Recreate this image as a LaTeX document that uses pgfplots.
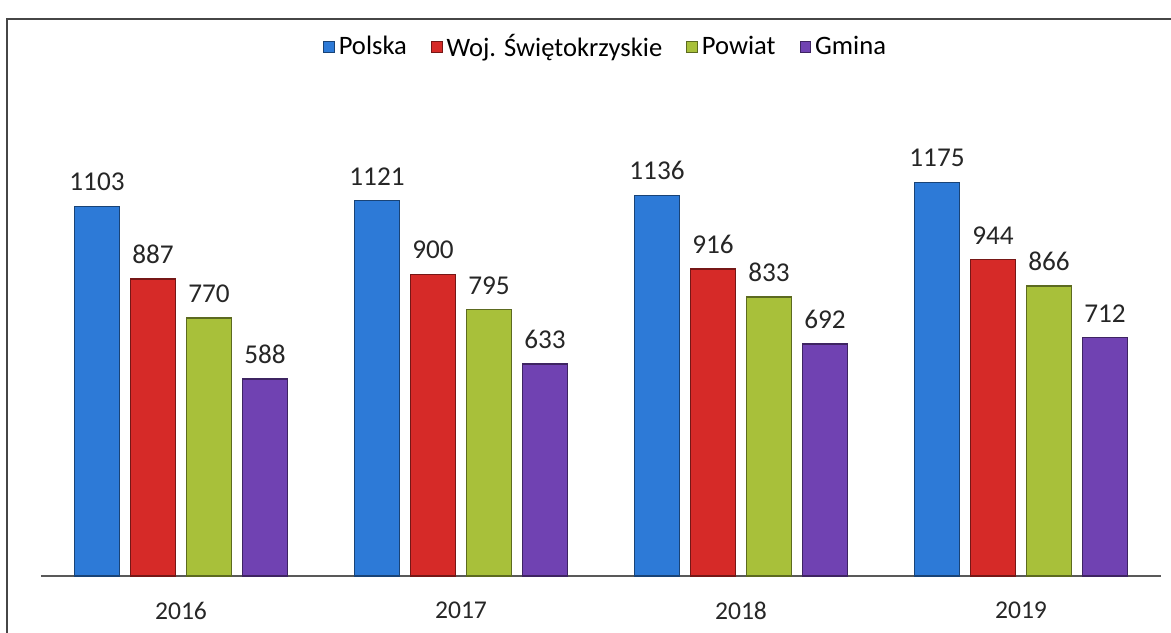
\documentclass[border=0pt]{standalone}
\usepackage{pgfplots}
\pgfplotsset{compat=1.18}
\usepackage{fontspec}
\setmainfont{Carlito}

\definecolor{cBlue}{RGB}{45,122,215}
\definecolor{cRed}{RGB}{214,42,40}
\definecolor{cGreen}{RGB}{168,192,58}
\definecolor{cPurple}{RGB}{112,66,178}

% one style per series: flat bar with darker rim
\pgfplotsset{
  barstyle/.style={
    draw=#1!55!black, line width=0.7pt, fill=#1,
  },
}

\begin{document}
\begin{tikzpicture}
\useasboundingbox (0,0) rectangle (585.5pt,316pt);
\draw[gray!55!black, line width=0.6pt] (3.5pt,-5pt) -- (3.5pt,306.5pt) -- (592pt,306.5pt);

\begin{axis}[
    at={(20.5pt,28pt)}, anchor=south west,
    scale only axis,
    width=560pt, height=201pt,
    ybar=5.5pt, bar width=22.5pt,
    ymin=0, ymax=1200,
    xmin=-0.5, xmax=3.5,
    axis y line=none,
    axis x line*=bottom,
    x axis line style={-, draw=gray!70!black, line width=0.8pt},
    xtick=data,
    xticklabels={2016,2017,2018,2019},
    major tick length=0pt,
    ytick=\empty,
    xticklabel style={font=\fontsize{12.8}{14}\selectfont, text=black!85, yshift=-9.5pt},
    nodes near coords,
    /pgf/number format/1000 sep={},
    /pgf/number format/assume math mode=true,
    every node near coord/.append style={font=\fontsize{13.6}{15}\selectfont, text=black!85, anchor=south, yshift=4pt},
    legend style={
        at={(0.505,1.316)}, anchor=center,
        draw=none, fill=none,
        legend columns=4,
        font=\fontsize{13.3}{15}\selectfont,
        /tikz/every even column/.append style={column sep=10pt},
    },
    legend image code/.code={\draw[#1, line width=0.4pt] (0pt,-2.7pt) rectangle (5.4pt,2.7pt);},
]

\addplot[barstyle=cBlue] coordinates {(0,1103) (1,1121) (2,1136) (3,1175)};
\addlegendentry{Polska}

\addplot[barstyle=cRed] coordinates {(0,887) (1,900) (2,916) (3,944)};
\addlegendentry{Woj. Świętokrzyskie}

\addplot[barstyle=cGreen] coordinates {(0,770) (1,795) (2,833) (3,866)};
\addlegendentry{Powiat}

\addplot[barstyle=cPurple] coordinates {(0,588) (1,633) (2,692) (3,712)};
\addlegendentry{Gmina}

\end{axis}
\end{tikzpicture}
\end{document}
